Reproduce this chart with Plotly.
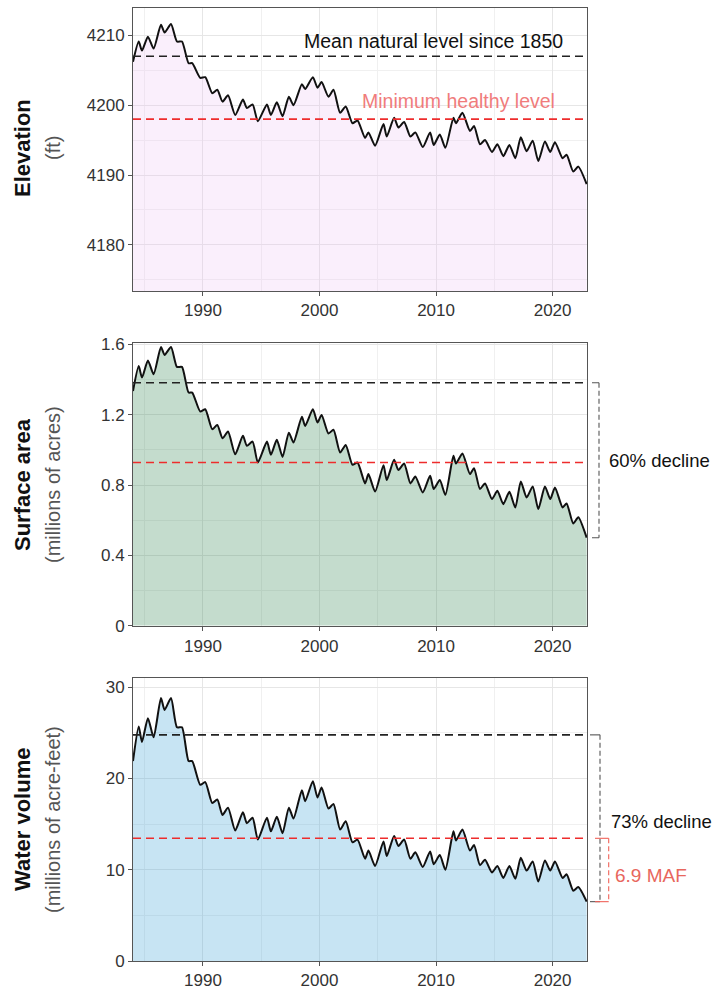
import plotly.graph_objects as go

# ---------------- data ----------------
decimal_year = [
    1984.0, 1984.49, 1984.77, 1985.28, 1985.77, 1986.4, 1986.71, 1987.26, 1987.77, 1988.2,
    1988.77, 1989.08, 1989.77, 1990.2, 1990.8, 1991.23, 1991.68, 1992.15, 1992.77, 1993.43,
    1993.77, 1994.26, 1994.71, 1995.49, 1995.83, 1996.34, 1996.83, 1997.37, 1997.77, 1998.49,
    1998.77, 1999.43, 1999.83, 2000.18, 2000.77, 2001.2, 2001.77, 2002.25, 2002.83, 2003.26,
    2003.91, 2004.2, 2004.77, 2005.49, 2005.77, 2006.4, 2006.77, 2007.26, 2007.8, 2008.22,
    2008.86, 2009.49, 2009.8, 2010.32, 2010.8, 2011.49, 2011.71, 2012.26, 2012.91, 2013.26,
    2013.77, 2014.2, 2014.8, 2015.26, 2015.77, 2016.29, 2016.8, 2017.27, 2017.77, 2018.29,
    2018.77, 2019.34, 2019.8, 2020.2, 2020.86, 2021.2, 2021.77, 2022.2, 2022.92,
]

elevation_ft = [
    4206.2, 4209.1, 4207.8, 4209.8, 4208.1, 4211.5, 4210.4, 4211.6, 4209.1, 4209.1,
    4206.0, 4206.0, 4203.9, 4204.0, 4201.7, 4202.2, 4200.5, 4201.4, 4198.6, 4200.8,
    4199.6, 4200.1, 4197.7, 4200.1, 4198.6, 4200.4, 4198.4, 4201.2, 4200.0, 4203.0,
    4202.3, 4204.0, 4202.5, 4203.3, 4201.2, 4202.2, 4198.9, 4199.8, 4197.4, 4197.8,
    4195.3, 4196.1, 4194.2, 4197.3, 4195.5, 4198.2, 4196.8, 4197.6, 4195.5, 4196.1,
    4194.0, 4196.1, 4194.3, 4195.8, 4193.9, 4198.2, 4197.4, 4198.9, 4196.3, 4197.0,
    4194.4, 4195.0, 4193.3, 4194.4, 4192.7, 4194.3, 4192.4, 4195.4, 4193.4, 4194.9,
    4192.0, 4194.8, 4193.3, 4194.7, 4192.4, 4192.9, 4190.5, 4191.2, 4188.7,
]

surface_area_macres = [
    1.335, 1.477, 1.411, 1.509, 1.430, 1.585, 1.540, 1.585, 1.472, 1.472,
    1.326, 1.326, 1.218, 1.231, 1.117, 1.142, 1.066, 1.104, 0.975, 1.080,
    1.023, 1.047, 0.928, 1.047, 0.972, 1.057, 0.960, 1.098, 1.042, 1.188,
    1.136, 1.231, 1.155, 1.199, 1.093, 1.114, 0.985, 1.028, 0.915, 0.928,
    0.809, 0.862, 0.763, 0.913, 0.828, 0.943, 0.885, 0.922, 0.809, 0.848,
    0.758, 0.852, 0.777, 0.828, 0.744, 0.966, 0.922, 0.979, 0.862, 0.896,
    0.777, 0.809, 0.720, 0.767, 0.691, 0.761, 0.672, 0.820, 0.729, 0.792,
    0.663, 0.792, 0.720, 0.786, 0.672, 0.695, 0.581, 0.616, 0.500,
]

volume_maf = [
    21.9, 25.7, 24.0, 26.6, 24.5, 28.8, 27.5, 28.8, 25.6, 25.6,
    21.9, 21.9, 19.3, 19.6, 17.3, 17.7, 16.0, 16.8, 14.3, 16.3,
    15.1, 15.7, 13.3, 15.7, 14.2, 15.8, 14.0, 16.8, 15.6, 18.7,
    17.5, 19.7, 17.9, 19.0, 16.7, 17.2, 14.4, 15.3, 13.0, 13.3,
    11.2, 12.1, 10.4, 13.1, 11.5, 13.7, 12.6, 13.3, 11.2, 11.9,
    10.3, 12.0, 10.6, 11.6, 10.0, 14.2, 13.2, 14.4, 12.1, 12.7,
    10.5, 11.1, 9.7, 10.4, 9.1, 10.4, 9.0, 11.3, 9.9, 10.9,
    8.7, 11.0, 9.9, 10.9, 9.1, 9.5, 7.7, 8.1, 6.5,
]

# reference levels: [mean natural level since 1850, minimum healthy level]
elevation_levels = [4207.0, 4198.0]
area_levels = [1.382, 0.928]
volume_levels = [24.77, 13.44]

panel_titles = ["Elevation", "Surface area", "Water volume"]
panel_units = ["(ft)", "(millions of acres)", "(millions of acre-feet)"]
x_ticks = [1990, 2000, 2010, 2020]
elev_ticks = [4180, 4190, 4200, 4210]
area_ticks = [0, 0.4, 0.8, 1.2, 1.6]
area_tick_labels = ["0", "0.4", "0.8", "1.2", "1.6"]
vol_ticks = [0, 10, 20, 30]

# ---------------- styling ----------------
FONT = "Liberation Sans, Arial, Helvetica, sans-serif"
W, H = 717, 989
ML, MR, MT, MB = 133, 130, 8, 28
PW = W - ML - MR
PH = H - MT - MB
SHIFT = 2  # move everything up slightly so the bottom tick labels fit

def py(ypx):
    return min(1.0, max(0.0, (H - MB - (ypx - SHIFT)) / PH))

def px(xpx):
    return (xpx - ML) / PW

fills = ["rgba(235,190,245,0.25)", "rgba(60,140,90,0.30)", "rgba(70,165,215,0.30)"]
series = [elevation_ft, surface_area_macres, volume_maf]
levels = [elevation_levels, area_levels, volume_levels]
domains = [[py(293), py(10)], [py(628.3), py(345)], [py(963), py(680)]]
yranges = [[4173.4, 4213.9], [-0.004, 1.608], [0, 31.0]]

RED = "#EE2C2C"
fig = go.Figure()

for i in range(3):
    ax = "" if i == 0 else str(i + 1)
    fig.add_trace(go.Scatter(
        x=decimal_year, y=series[i], mode="lines",
        line=dict(color="#111111", width=2, shape="spline", smoothing=0.6),
        fill="tozeroy", fillcolor=fills[i],
        xaxis="x" + ax, yaxis="y" + ax, showlegend=False, hoverinfo="x+y",
    ))
    for lv, col in zip(levels[i], ["#222222", RED]):
        fig.add_trace(go.Scatter(
            x=[1984.0, 2022.95], y=[lv, lv], mode="lines",
            line=dict(color=col, width=1.6, dash="8px,5px"),
            xaxis="x" + ax, yaxis="y" + ax, showlegend=False, hoverinfo="skip",
        ))

axis_common = dict(
    showline=True, mirror=True, linecolor="#555555", linewidth=1,
    ticks="outside", ticklen=4, tickcolor="#555555",
    tickfont=dict(family=FONT, size=17, color="#333333"),
    showgrid=True, gridcolor="#E6E6E6", gridwidth=1.2, zeroline=False,
    automargin=False,
)

layout = dict(
    width=W, height=H,
    margin=dict(l=ML, r=MR, t=MT, b=MB, autoexpand=False),
    plot_bgcolor="white", paper_bgcolor="white",
    font=dict(family=FONT),
)

minor_style = dict(showgrid=True, gridcolor="#F0F0F0", gridwidth=0.8)
ytick_defs = [
    dict(tickvals=elev_ticks, ticktext=[str(v) for v in elev_ticks],
         minor=dict(minor_style, tickvals=[4175, 4185, 4195, 4205])),
    dict(tickvals=area_ticks, ticktext=area_tick_labels,
         minor=dict(minor_style, tickvals=[0.2, 0.6, 1.0, 1.4])),
    dict(tickvals=vol_ticks, ticktext=[str(v) for v in vol_ticks],
         minor=dict(minor_style, tickvals=[5, 15, 25])),
]

for i in range(3):
    ax = "" if i == 0 else str(i + 1)
    layout["xaxis" + ax] = dict(
        axis_common, domain=[0, 1], anchor="y" + ax, range=[1984.0, 2022.95],
        tickvals=x_ticks, ticktext=[str(v) for v in x_ticks],
        minor=dict(minor_style, tickvals=[1985, 1995, 2005, 2015]),
    )
    layout["yaxis" + ax] = dict(
        axis_common, domain=domains[i], anchor="x" + ax, range=yranges[i], **ytick_defs[i]
    )

fig.update_layout(**layout)

# y-axis two-line titles
for i in range(3):
    yc = py([150, 487, 822][i])
    fig.add_annotation(xref="paper", yref="paper", x=px(22), y=yc,
                       text="<b>" + panel_titles[i] + "</b>", textangle=-90, showarrow=False,
                       font=dict(family=FONT, size=22, color="#111111"),
                       xanchor="center", yanchor="middle")
    fig.add_annotation(xref="paper", yref="paper", x=px(53), y=yc,
                       text=panel_units[i], textangle=-90, showarrow=False,
                       font=dict(family=FONT, size=20, color="#555555"),
                       xanchor="center", yanchor="middle")

# panel 1 labels
fig.add_annotation(xref="x", yref="y", x=2009.8, y=4209.2, text="Mean natural level since 1850",
                   showarrow=False, font=dict(family=FONT, size=19.5, color="#111111"),
                   xanchor="center", yanchor="middle")
fig.add_annotation(xref="x", yref="y", x=2011.9, y=4200.6, text="Minimum healthy level",
                   showarrow=False, font=dict(family=FONT, size=19.5, color="#F07C7C"),
                   xanchor="center", yanchor="middle")

# brackets
def bracket(yref, ytop, ybot, xv, xl, color):
    d = dict(color=color, width=1.1, dash="5px,3px")
    fig.add_shape(type="line", xref="paper", yref=yref, x0=xv, x1=xv, y0=ytop, y1=ybot, line=d)
    for yy in (ytop, ybot):
        fig.add_shape(type="line", xref="paper", yref=yref, x0=xl, x1=xv, y0=yy, y1=yy,
                      line=dict(color=color, width=1.1))

bracket("y2", area_levels[0], surface_area_macres[-1], px(599), px(592), "#555555")
fig.add_annotation(xref="paper", yref="y2", x=px(607), y=0.939, text="60% decline",
                   showarrow=False, font=dict(family=FONT, size=18.5, color="#111111"),
                   xanchor="left", yanchor="middle")

bracket("y3", volume_levels[0], volume_maf[-1], px(600), px(590), "#555555")
bracket("y3", volume_levels[1], volume_maf[-1], px(608.7), px(595), "#F0635A")
fig.add_annotation(xref="paper", yref="y3", x=px(609), y=15.33, text="73% decline",
                   showarrow=False, font=dict(family=FONT, size=18.5, color="#111111"),
                   xanchor="left", yanchor="middle")
fig.add_annotation(xref="paper", yref="y3", x=px(613), y=9.36, text="6.9 MAF",
                   showarrow=False, font=dict(family=FONT, size=19, color="#E8675D"),
                   xanchor="left", yanchor="middle")

fig.write_html(
    "out.html",
    config={"displayModeBar": False},
    post_script="document.body.style.margin='0px';document.body.style.overflow='hidden';",
)
